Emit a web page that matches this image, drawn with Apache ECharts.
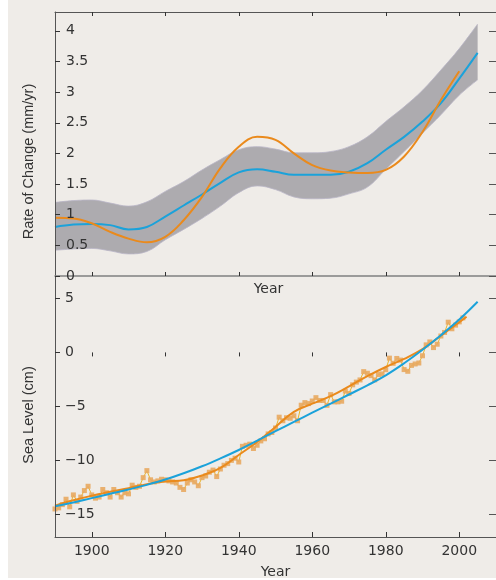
<!DOCTYPE html>
<html>
<head>
<meta charset="utf-8">
<script src="https://cdn.jsdelivr.net/npm/echarts@6/dist/echarts.min.js"></script>
<style>
  html, body { margin: 0; padding: 0; background: #ffffff; }
  #bg { position: absolute; left: 8px; top: 0; width: 488px; height: 578px; background: #efece8; }
  #chart { position: absolute; left: 0; top: 0; width: 496px; height: 580px; }
</style>
</head>
<body>
<div id="bg"></div>
<div id="chart"></div>
<script>
// ---- Data ----
const xTickValues = [1900, 1920, 1940, 1960, 1980, 2000];
const rateTickValues = [0, 0.5, 1, 1.5, 2, 2.5, 3, 3.5, 4];
const levelTickValues = [-15, -10, -5, 0, 5];

// Top panel: rate of change (mm/yr), sampled every 5 years
const rateYears = [1890, 1895, 1900, 1905, 1910, 1915, 1920, 1925, 1930, 1935, 1940, 1945,
                   1950, 1955, 1960, 1965, 1970, 1975, 1980, 1985, 1990, 1995, 2000, 2005];
const rateBlue  = [0.80, 0.84, 0.85, 0.83, 0.76, 0.80, 0.97, 1.15, 1.33, 1.52, 1.69, 1.74,
                   1.70, 1.65, 1.65, 1.65, 1.70, 1.84, 2.06, 2.27, 2.52, 2.82, 3.22, 3.64];
const bandUpper = [1.20, 1.23, 1.24, 1.19, 1.14, 1.21, 1.38, 1.54, 1.73, 1.90, 2.06, 2.11,
                   2.07, 2.01, 2.01, 2.03, 2.11, 2.27, 2.52, 2.76, 3.03, 3.36, 3.71, 4.11];
const bandLower = [0.42, 0.44, 0.45, 0.41, 0.36, 0.40, 0.59, 0.76, 0.94, 1.14, 1.36, 1.47,
                   1.41, 1.29, 1.26, 1.27, 1.34, 1.45, 1.74, 2.03, 2.33, 2.63, 2.95, 3.20];
const rateOrangeYears = [1890, 1895, 1900, 1905, 1910, 1915, 1920, 1925, 1930, 1935, 1940, 1945,
                         1950, 1955, 1960, 1965, 1970, 1975, 1980, 1985, 1990, 1995, 2000];
const rateOrange = [0.95, 0.94, 0.86, 0.72, 0.61, 0.55, 0.64, 0.91, 1.29, 1.76, 2.11, 2.27,
                    2.22, 2.00, 1.81, 1.72, 1.69, 1.68, 1.73, 1.95, 2.35, 2.87, 3.34];

// Bottom panel: sea level (cm)
const levelBlueYears = [1890, 1895, 1900, 1905, 1910, 1915, 1920, 1925, 1930, 1935, 1940, 1945,
                        1950, 1955, 1960, 1965, 1970, 1975, 1980, 1985, 1990, 1995, 2000, 2005];
const levelBlue = [-14.25, -13.9, -13.5, -13.1, -12.7, -12.27, -11.78, -11.2, -10.55, -9.82, -9.04, -8.18,
                   -7.3, -6.44, -5.58, -4.74, -3.9, -3.05, -2.12, -1.0, 0.25, 1.6, 3.05, 4.7];
const levelOrangeYears = [1890, 1895, 1900, 1905, 1910, 1915, 1920, 1925, 1930, 1935, 1940, 1945,
                          1950, 1955, 1960, 1965, 1970, 1975, 1980, 1985, 1990, 1995, 2000, 2002];
const levelOrange = [-14.2, -13.7, -13.28, -12.9, -12.58, -12.2, -11.95, -11.85, -11.4, -10.7, -9.5, -8.3,
                     -6.9, -5.5, -4.75, -4.05, -3.15, -2.2, -1.35, -0.6, 0.3, 1.55, 2.8, 3.3];
const annualStartYear = 1890;
const annualLevel = [
  -14.5, -14.4, -14.1, -13.6, -14.3, -13.2, -13.8, -13.4, -12.8, -12.4,
  -13.2, -13.5, -13.4, -12.7, -13.0, -13.4, -12.7, -13.0, -13.4, -13.0,
  -13.1, -12.3, -12.5, -12.4, -11.6, -10.95, -11.8, -12.0, -11.9, -11.75,
  -11.8, -11.9, -12.0, -12.1, -12.5, -12.7, -12.1, -11.8, -12.0, -12.35,
  -11.6, -11.45, -11.1, -10.9, -11.5, -10.8, -10.45, -10.3, -10.0, -9.8,
  -10.15, -8.7, -8.6, -8.5, -8.9, -8.6, -8.2, -8.0, -7.55, -7.42,
  -7.0, -6.0, -6.33, -6.05, -6.1, -5.87, -6.33, -4.89, -4.65, -4.74,
  -4.5, -4.19, -4.45, -4.45, -4.9, -3.91, -4.58, -4.58, -4.52, -3.58,
  -3.8, -3.0, -2.75, -2.55, -1.78, -1.93, -2.15, -2.54, -2.05, -1.99,
  -1.6, -0.53, -1.01, -0.56, -0.71, -1.59, -1.75, -1.2, -1.07, -0.98,
  -0.31, 0.70, 0.97, 0.45, 0.76, 1.52, 1.85, 2.80, 2.19, 2.53,
  2.83, 3.2
];

// ---- Build chart ----
const pairs = (xs, ys) => ys.map((v, i) => [xs[i], v]);
const annualPairs = annualLevel.map((v, i) => [annualStartYear + i, v]);
// value first, year second, so that the stack is applied to the value dimension
const bandLowerRows = bandLower.map((v, i) => [v, rateYears[i]]);
const bandWidthRows = bandUpper.map((u, i) => [+(u - bandLower[i]).toFixed(3), rateYears[i]]);

const tickFont = { fontFamily: 'DejaVu Sans', fontSize: 14, color: '#333' };
const titleFont = { fontFamily: "'Liberation Sans', Arial", fontSize: 14.5, color: '#333' };
const minus = v => String(v).replace('-', '\u2212');

const X_MIN = 1890, X_MAX = 2010;
const baseX = {
  type: 'value', min: X_MIN, max: X_MAX, splitLine: { show: false }, z: 10,
  axisLabel: { show: false },
  axisTick: { show: true, inside: true, length: 4, customValues: xTickValues, lineStyle: { color: '#333', width: 1 } },
  axisLine: { show: true, onZero: false, lineStyle: { color: '#555', width: 1 } }
};

const chart = echarts.init(document.getElementById('chart'), null, { renderer: 'canvas' });
chart.setOption({
  backgroundColor: 'transparent',
  animation: false,
  grid: [
    { left: 55, top: 12, width: 445, height: 264 },
    { left: 55, top: 276, width: 445, height: 264 }
  ],
  xAxis: [
    Object.assign({}, baseX, {
      gridIndex: 0, position: 'bottom',
      axisLine: { show: true, onZero: false, lineStyle: { color: '#808080', width: 1.5 } },
      name: 'Year', nameLocation: 'middle', nameGap: 6,
      nameTextStyle: Object.assign({}, tickFont, { padding: [0, 14, 0, 0] })
    }),
    Object.assign({}, baseX, { gridIndex: 0, position: 'top' }),
    Object.assign({}, baseX, { gridIndex: 1, position: 'top', axisLine: { show: false } }),
    Object.assign({}, baseX, {
      gridIndex: 1, position: 'bottom',
      axisTick: { show: true, inside: true, length: 5, customValues: xTickValues, lineStyle: { color: '#333' } },
      axisLabel: Object.assign({ show: true, margin: 7, customValues: xTickValues, formatter: v => String(v) }, tickFont),
      name: 'Year', nameLocation: 'middle', nameGap: 28,
      nameTextStyle: tickFont
    })
  ],
  yAxis: [
    {
      gridIndex: 0, type: 'value', min: 0, max: 4.307, position: 'left', z: 10,
      splitLine: { show: false },
      axisLine: { show: true, onZero: false, lineStyle: { color: '#555', width: 1 } },
      axisTick: { show: true, inside: true, length: 5, customValues: rateTickValues, lineStyle: { color: '#333' } },
      axisLabel: Object.assign({ show: true, inside: true, margin: 11, customValues: rateTickValues, formatter: v => String(v) }, tickFont),
      name: 'Rate of Change (mm/yr)', nameLocation: 'middle', nameGap: 19,
      nameTextStyle: Object.assign({}, titleFont, { padding: [0, 35, 0, 0] })
    },
    {
      gridIndex: 0, type: 'value', min: 0, max: 4.307, position: 'right', z: 10,
      splitLine: { show: false }, axisLabel: { show: false },
      axisLine: { show: true, onZero: false, lineStyle: { color: '#555' } },
      axisTick: { show: true, inside: true, length: 7, customValues: rateTickValues, lineStyle: { color: '#555' } }
    },
    {
      gridIndex: 1, type: 'value', min: -17.1, max: 7.08, position: 'left', z: 10,
      splitLine: { show: false },
      axisLine: { show: true, onZero: false, lineStyle: { color: '#555', width: 1 } },
      axisTick: { show: true, inside: true, length: 5, customValues: levelTickValues, lineStyle: { color: '#333' } },
      axisLabel: Object.assign({ show: true, inside: true, margin: 10, customValues: levelTickValues, formatter: minus }, tickFont),
      name: 'Sea Level (cm)', nameLocation: 'middle', nameGap: 19,
      nameTextStyle: Object.assign({}, titleFont, { padding: [0, 17, 0, 0] })
    },
    {
      gridIndex: 1, type: 'value', min: -17.1, max: 7.08, position: 'right', z: 10,
      splitLine: { show: false }, axisLabel: { show: false },
      axisLine: { show: true, onZero: false, lineStyle: { color: '#555' } },
      axisTick: { show: true, inside: true, length: 7, customValues: levelTickValues, lineStyle: { color: '#555' } }
    }
  ],
  series: [
    {
      name: 'band-lower', type: 'line', xAxisIndex: 0, yAxisIndex: 0, stack: 'band',
      data: bandLowerRows, encode: { x: 1, y: 0 }, smooth: 0.4, symbol: 'none',
      lineStyle: { width: 0.8, color: '#b9b5c6' }, silent: true, z: 1
    },
    {
      name: 'band', type: 'line', xAxisIndex: 0, yAxisIndex: 0, stack: 'band',
      data: bandWidthRows, encode: { x: 1, y: 0 }, smooth: 0.4, symbol: 'none',
      lineStyle: { width: 0.8, color: '#b9b5c6' },
      areaStyle: { color: '#adabaf', opacity: 1 }, silent: true, z: 1
    },
    {
      name: 'rate-blue', type: 'line', xAxisIndex: 0, yAxisIndex: 0,
      data: pairs(rateYears, rateBlue), smooth: 0.4, symbol: 'none',
      lineStyle: { width: 2, color: '#1ba2da' }, z: 3
    },
    {
      name: 'rate-orange', type: 'line', xAxisIndex: 0, yAxisIndex: 0,
      data: pairs(rateOrangeYears, rateOrange), smooth: 0.4, symbol: 'none',
      lineStyle: { width: 2, color: '#ea8a1c' }, z: 4
    },
    {
      name: 'annual', type: 'line', xAxisIndex: 3, yAxisIndex: 2,
      data: annualPairs, symbol: 'rect', symbolSize: 5, showSymbol: true,
      itemStyle: { color: '#e8aa62', opacity: 0.9 },
      lineStyle: { width: 1, color: '#e8b52c' }, z: 2
    },
    {
      name: 'level-orange', type: 'line', xAxisIndex: 3, yAxisIndex: 2,
      data: pairs(levelOrangeYears, levelOrange), smooth: 0.4, symbol: 'none',
      lineStyle: { width: 2, color: '#ea8a1c' }, z: 3
    },
    {
      name: 'level-blue', type: 'line', xAxisIndex: 3, yAxisIndex: 2,
      data: pairs(levelBlueYears, levelBlue), smooth: 0.4, symbol: 'none',
      lineStyle: { width: 2, color: '#1ba2da' }, z: 4
    }
  ]
});
</script>
</body>
</html>
